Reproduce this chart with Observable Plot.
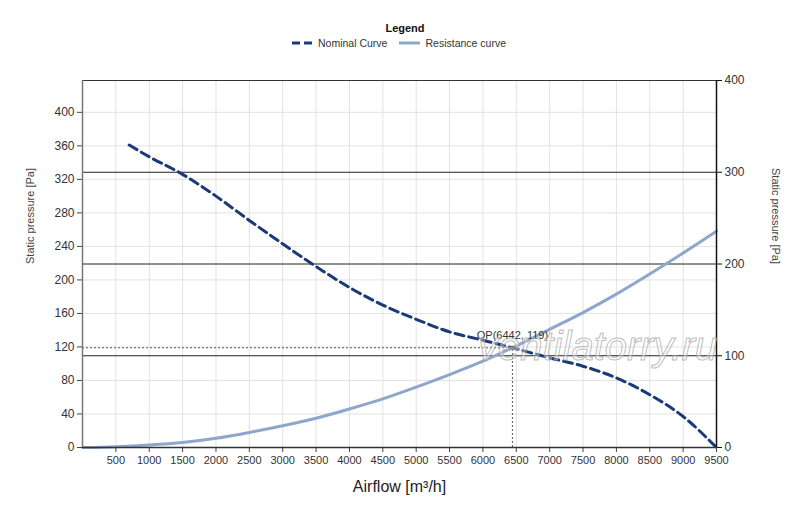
<!DOCTYPE html>
<html>
<head>
<meta charset="utf-8">
<script src="https://cdn.jsdelivr.net/npm/d3@7"></script>
<script src="https://cdn.jsdelivr.net/npm/@observablehq/plot@0.6"></script>
<style>
  html, body { margin: 0; padding: 0; background: #fff; }
  #wrap { position: relative; width: 800px; height: 507px; overflow: hidden; font-family: "Liberation Sans", Arial, sans-serif; }
  #legend { position: absolute; left: 0; top: 22px; width: 800px; text-align: center; font-size: 10.5px; color: #333; }
  #legend .title { font-weight: bold; color: #111; margin-left: 10px; font-size: 11px; }
  #legend .items { margin-top: 3px; display: flex; justify-content: center; align-items: center; gap: 4px; margin-left: -2px; }
  #legend .item { display: inline-flex; align-items: center; gap: 5px; margin: 0 4px; }
  #watermark { position: absolute; left: 478px; top: 324px; font-size: 40px; font-style: italic; color: rgba(255,255,255,0.35); -webkit-text-stroke: 1px rgba(160,160,160,0.7); font-family: "Liberation Sans", Arial, sans-serif; pointer-events: none; }
</style>
</head>
<body>
<div id="wrap">
  <div id="chart"></div>
  <div id="legend">
    <div class="title">Legend</div>
    <div class="items">
      <span class="item"><svg width="21" height="6"><line x1="0" y1="3" x2="21" y2="3" stroke="#1b3a78" stroke-width="3" stroke-dasharray="8,4"/></svg>Nominal Curve</span>
      <span class="item"><svg width="21" height="6"><line x1="0" y1="3" x2="21" y2="3" stroke="#8fa6cc" stroke-width="3"/></svg>Resistance curve</span>
    </div>
  </div>
  <div id="watermark">ventilatorry.ru</div>
</div>
<script>
// Nominal (fan) curve, static pressure [Pa] vs airflow [m³/h]
const nominalX = [700, 1000, 1500, 2000, 2500, 3000, 3500, 4000, 4500, 5000, 5500, 6000, 6442, 7000, 7500, 8000, 8500, 9000, 9500];
const nominalY = [361, 347, 326, 300, 271, 243, 216, 191, 170, 153, 138, 128, 119, 107, 97, 83, 63, 37, 0];
// Resistance (system) curve
const resistanceX = [0, 500, 1000, 1500, 2000, 2500, 3000, 3500, 4000, 4500, 5000, 5500, 6000, 6442, 7000, 7500, 8000, 8500, 9000, 9500];
const resistanceY = [0, 1, 3, 6, 11, 18, 26, 35, 46, 58, 72, 87, 103, 119, 141, 161, 183, 207, 232, 258];
// Operating point
const opX = 6442;
const opY = 119;
// Axis ticks
const xTicks = [500, 1000, 1500, 2000, 2500, 3000, 3500, 4000, 4500, 5000, 5500, 6000, 6500, 7000, 7500, 8000, 8500, 9000, 9500];
const leftTicks = [0, 40, 80, 120, 160, 200, 240, 280, 320, 360, 400];
const rightTicks = [0, 100, 200, 300, 400];
const leftMax = 438;
const rightMax = 400;

const k = leftMax / rightMax;
const nominal = nominalX.map((x, i) => ({x, y: nominalY[i]}));
const resistance = resistanceX.map((x, i) => ({x, y: resistanceY[i]}));

const chart = Plot.plot({
  width: 800,
  height: 507,
  marginLeft: 82,
  marginRight: 84,
  marginTop: 80,
  marginBottom: 60,
  style: {fontFamily: "Liberation Sans, Arial, sans-serif", fontSize: "11px", color: "#333", background: "transparent"},
  x: {domain: [0, 9500]},
  y: {domain: [0, leftMax]},
  marks: [
    // light grid
    Plot.ruleX(xTicks.slice(0, -1), {stroke: "#e2e2e2", strokeWidth: 1, strokeOpacity: 1}),
    Plot.ruleY(leftTicks.slice(1), {stroke: "#e2e2e2", strokeWidth: 1, strokeOpacity: 1}),
    // dark grid from right axis
    Plot.ruleY(rightTicks.slice(1, -1).map(v => v * k), {stroke: "#222", strokeWidth: 1}),
    // frame top
    Plot.ruleY([leftMax], {stroke: "#333", strokeWidth: 1}),
    // operating point guide lines
    Plot.ruleY([opY], {x1: 0, x2: opX, stroke: "#555", strokeWidth: 1, strokeDasharray: "2,2"}),
    Plot.ruleX([opX], {y1: 0, y2: opY, stroke: "#555", strokeWidth: 1, strokeDasharray: "2,2"}),
    // curves
    Plot.line(resistance, {x: "x", y: "y", stroke: "#8fa6cc", strokeWidth: 3, curve: "monotone-x"}),
    Plot.line(nominal, {x: "x", y: "y", stroke: "#1b3a78", strokeWidth: 3, strokeDasharray: "9,5", curve: "monotone-x"}),
    Plot.dot([{x: opX, y: opY}], {x: "x", y: "y", r: 2, fill: "#444"}),
    Plot.text([{x: opX, y: opY}], {x: "x", y: "y", text: () => `OP(${opX}, ${opY})`, dy: -12, fill: "#333", fontSize: 11}),
    // axes
    Plot.axisX(xTicks, {tickSize: 5, tickPadding: 4, stroke: "#444", label: null, tickFormat: d => String(d)}),
    Plot.ruleY([0], {stroke: "#333", strokeWidth: 1.5}),
    Plot.axisY(leftTicks, {anchor: "left", tickSize: 5, tickPadding: 3, stroke: "#444", label: null, fontSize: 12, tickFormat: d => String(d)}),
    Plot.ruleX([0], {stroke: "#777", strokeWidth: 1.5}),
    Plot.axisY(rightTicks.map(v => v * k), {anchor: "right", tickSize: 5, tickPadding: 3, stroke: "#111", label: null, fontSize: 12, tickFormat: d => String(Math.round(d / k))}),
    Plot.ruleX([9500], {stroke: "#111", strokeWidth: 1.5}),
    // axis titles
    Plot.text(["Airflow [m³/h]"], {frameAnchor: "bottom", dy: 44, fontSize: 16, fill: "#222"}),
    Plot.text(["Static pressure [Pa]"], {frameAnchor: "left", dx: -52, rotate: -90, fontSize: 11, fill: "#444"}),
    Plot.text(["Static pressure [Pa]"], {frameAnchor: "right", dx: 59, rotate: 90, fontSize: 11, fill: "#444"})
  ]
});
document.getElementById("chart").appendChild(chart);
</script>
</body>
</html>
